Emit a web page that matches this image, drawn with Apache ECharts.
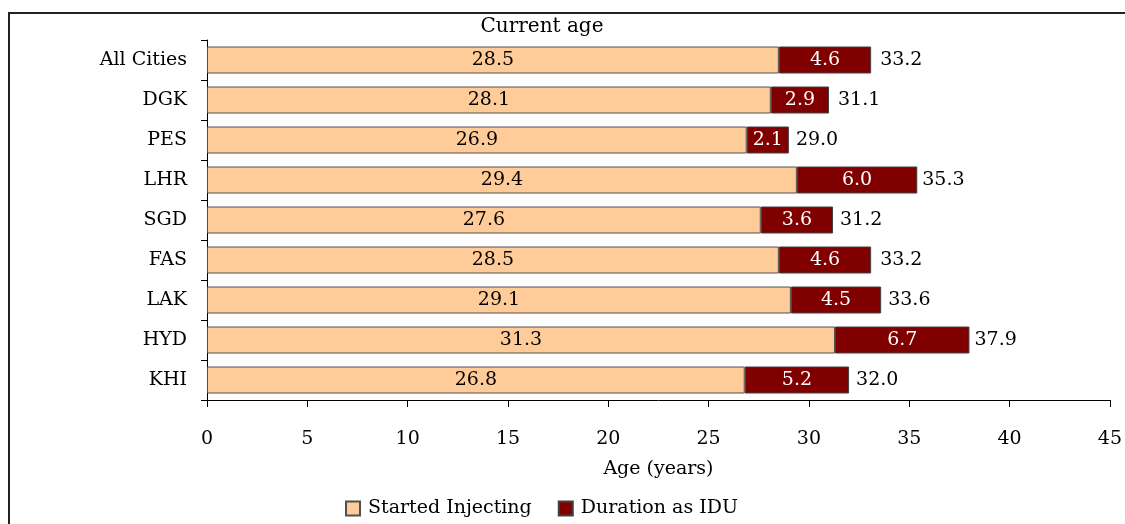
<!DOCTYPE html>
<html>
<head>
<meta charset="utf-8">
<script src="https://cdn.jsdelivr.net/npm/echarts@6/dist/echarts.min.js"></script>
<style>
  html, body { margin: 0; padding: 0; background: #fff; }
  #chart { position: absolute; left: 0; top: 0; width: 1125px; height: 524px; }
  #frame { position: absolute; left: 8px; top: 12px; width: 1200px; height: 600px;
           border-top: 2px solid #222; border-left: 2px solid #222; pointer-events: none; }
</style>
</head>
<body>
<div id="chart"></div>
<div id="frame"></div>
<script>
// categories listed top to bottom
var cities = ['All Cities', 'DGK', 'PES', 'LHR', 'SGD', 'FAS', 'LAK', 'HYD', 'KHI'];
var startedInjecting = [28.5, 28.1, 26.9, 29.4, 27.6, 28.5, 29.1, 31.3, 26.8];
var durationIDU = [4.6, 2.9, 2.1, 6.0, 3.6, 4.6, 4.5, 6.7, 5.2];
var currentAge = [33.2, 31.1, 29.0, 35.3, 31.2, 33.2, 33.6, 37.9, 32.0];

var font = 'DejaVu Serif';
var fs = 19;
var myChart = echarts.init(document.getElementById('chart'));

var option = {
  animation: false,
  textStyle: { fontFamily: font, color: '#000' },
  title: {
    text: 'Current age',
    left: 537,
    top: 12,
    textAlign: 'center',
    textStyle: { fontFamily: font, fontSize: 20, fontWeight: 'normal', color: '#000' }
  },
  grid: { left: 207, right: 15, top: 40, bottom: 124 },
  legend: {
    data: ['Started Injecting', 'Duration as IDU'],
    left: 340,
    top: 494,
    itemWidth: 14,
    itemHeight: 14,
    itemGap: 26,
    icon: 'rect',
    textStyle: { fontFamily: font, fontSize: fs, color: '#000', padding: [0, 0, 0, 3] }
  },
  xAxis: {
    type: 'value',
    min: 0,
    max: 45,
    interval: 5,
    name: 'Age (years)',
    nameLocation: 'middle',
    nameGap: 60,
    nameTextStyle: { fontFamily: font, fontSize: fs, color: '#000' },
    axisLine: { show: true, lineStyle: { color: '#000', width: 1 } },
    axisTick: { show: true, length: 7, lineStyle: { color: '#000' } },
    axisLabel: { fontFamily: font, fontSize: fs, color: '#000', margin: 30 },
    splitLine: { show: false }
  },
  yAxis: {
    type: 'category',
    data: cities,
    inverse: true,
    axisLine: { show: true, lineStyle: { color: '#000', width: 1 } },
    axisTick: { show: true, length: 6, lineStyle: { color: '#000' } },
    axisLabel: { fontFamily: font, fontSize: fs, color: '#000', margin: 20 }
  },
  series: [
    {
      name: 'Started Injecting',
      type: 'bar',
      stack: 'age',
      barWidth: 27,
      data: startedInjecting,
      itemStyle: { color: '#FFCC99', borderColor: '#505050', borderWidth: 1 },
      label: {
        show: true, position: 'inside', color: '#000',
        fontFamily: font, fontSize: fs,
        formatter: function (p) { return p.value.toFixed(1); }
      }
    },
    {
      name: 'Duration as IDU',
      type: 'bar',
      stack: 'age',
      barWidth: 27,
      data: durationIDU,
      itemStyle: { color: '#800000', borderColor: '#404040', borderWidth: 1 },
      label: {
        show: true, position: 'inside', color: '#fff',
        fontFamily: font, fontSize: fs,
        formatter: function (p) { return p.value.toFixed(1); }
      }
    },
    {
      name: 'Current age',
      type: 'scatter',
      symbolSize: 0,
      silent: true,
      itemStyle: { opacity: 1 },
      data: currentAge.map(function (v, i) { return [v, cities[i]]; }),
      label: {
        show: true, position: 'right', distance: 7, color: '#000',
        fontFamily: font, fontSize: fs,
        formatter: function (p) { return p.value[0].toFixed(1); }
      }
    }
  ]
};
myChart.setOption(option);
</script>
</body>
</html>
